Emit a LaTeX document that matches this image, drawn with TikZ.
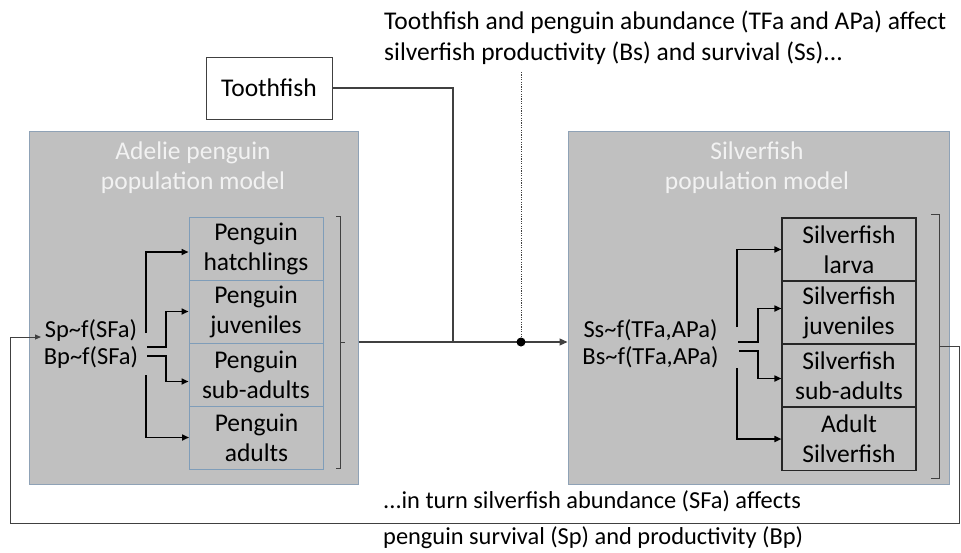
\documentclass[tikz,border=0pt]{standalone}
\usepackage{fontspec}
\setmainfont{Carlito}
\usetikzlibrary{arrows.meta,calc}
\definecolor{boxgray}{HTML}{C0C0C0}
\definecolor{boxedge}{HTML}{8FA2B6}
\definecolor{pedge}{HTML}{7F9DB9}
\definecolor{sedge}{HTML}{262626}
\definecolor{titlecol}{HTML}{F2F2F2}
\definecolor{thinline}{HTML}{404040}
\tikzset{
  txt/.style={font=\fontsize{25.5}{30}\selectfont, inner sep=0pt},
  lbl/.style={font=\fontsize{24.5}{29}\selectfont, inner sep=0pt},
  model/.style={draw=boxedge, fill=boxgray, line width=1pt, inner sep=0pt},
  pbox/.style={txt, draw=pedge, fill=boxgray, line width=1pt, minimum width=134pt, minimum height=63pt, align=center},
  sbox/.style={txt, draw=sedge, fill=boxgray, line width=1.1pt, minimum width=134pt, minimum height=63pt, align=center},
  arr/.style={line width=1.6pt, -{Triangle[length=7pt,width=6pt]}},
  brk/.style={draw=thinline, line width=1pt},
  conn/.style={draw=thinline, line width=1.1pt},
}
\begin{document}
\begin{tikzpicture}[x=1pt,y=-1pt]
\useasboundingbox (0,0) rectangle (961,552);
% model boxes
\node[model, minimum width=329pt, minimum height=353pt] (leftbox) at (193.5,307.5) {};
\node[model, minimum width=381pt, minimum height=353pt] (rightbox) at (758.5,307.5) {};
\node[txt, text=titlecol, align=center] (ltitle) at (193,167.5) {Adelie penguin\\population model};
\node[txt, text=titlecol, align=center] (rtitle) at (757,167.5) {Silverfish\\population model};
% penguin stages
\node[pbox] (ph) at (256,249) {Penguin\\hatchlings};
\node[pbox] (pj) at (256,311.5) {Penguin\\juveniles};
\node[pbox] (ps) at (256,374.5) {Penguin\\sub-adults};
\node[pbox] (pa) at (256.5,437.5) {Penguin\\adults};
% silverfish stages
\node[sbox] (sl) at (849,249.5) {Silverfish\\larva};
\node[sbox] (sj) at (849,312.5) {Silverfish\\juveniles};
\node[sbox] (ss) at (849,375.5) {Silverfish\\sub-adults};
\node[sbox] (sa) at (849,439) {Adult\\Silverfish};
% rate labels
\node[lbl] (spT) at (91,331) {Sp\textasciitilde f(SFa)};
\node[lbl] (bpT) at (91,358) {Bp\textasciitilde f(SFa)};
\node[lbl] (ssT) at (650.5,330) {Ss\textasciitilde f(TFa,APa)};
\node[lbl] (bsT) at (650.5,357) {Bs\textasciitilde f(TFa,APa)};
% penguin arrows
\coordinate (la1) at (146,333);
\coordinate (la2) at (147,347);
\coordinate (la2b) at (166,347);
\coordinate (la3) at (147,356);
\coordinate (la3b) at (166,356);
\coordinate (la4) at (146,375);
\draw[arr] (la1) |- ([yshift=-3pt]ph.west);
\draw[arr] (la2) -- (la2b) |- (pj.west);
\draw[arr] (la3) -- (la3b) |- ([yshift=-7pt]ps.west);
\draw[arr] (la4) |- (pa.west);
% silverfish arrows
\coordinate (ra1) at (737,327);
\coordinate (ra2) at (738,342);
\coordinate (ra2b) at (758,342);
\coordinate (ra3) at (739,351);
\coordinate (ra3b) at (758,351);
\coordinate (ra4) at (737,368);
\draw[arr] (ra1) |- (sl.west);
\draw[arr] (ra2) -- (ra2b) |- ([yshift=4pt]sj.west);
\draw[arr] (ra3) -- (ra3b) |- ([yshift=-3pt]ss.west);
\draw[arr] (ra4) |- (sa.west);
% brackets
\coordinate (lbt) at (340,216);
\coordinate (lbb) at (340,468);
\coordinate (lbm) at (340,342);
\draw[brk] ($(lbt)+(-4,0)$) -- (lbt) -- (lbb) -- ($(lbb)+(-4,0)$);
\draw[brk] (lbm) -- ($(lbm)+(5,0)$);
\coordinate (rbt) at (939,214);
\coordinate (rbb) at (939,478);
\coordinate (rbm) at (939,346);
\draw[brk] ($(rbt)+(-8,0)$) -- (rbt) -- (rbb) -- ($(rbb)+(-8,0)$);
% toothfish
\node[txt, draw=thinline, fill=white, line width=1pt, minimum width=126pt, minimum height=62pt] (tooth) at (269,88) {Toothfish};
\coordinate (J) at (453,342);
\coordinate (D) at (521,342);
\draw[conn] (tooth.east) -| (J);
\draw[conn] (leftbox.east |- J) -- (J);
\draw[conn, -{Triangle[length=8pt,width=7pt]}] (J) -- (rightbox.west |- J);
% top text and dotted link
\node[txt, anchor=west, align=left] (topT) at (384,37.5) {Toothfish and penguin abundance (TFa and APa) affect\\[1pt]silverfish productivity (Bs) and survival (Ss)...};
\coordinate (dtop) at (521,72);
\draw[thinline, line width=1pt, dash pattern=on 1.2pt off 1.2pt] (dtop) -- (D);
\fill (D) circle (4.5pt);
% feedback loop
\coordinate (fr) at (959.5,346);
\coordinate (fbr) at (959.5,523);
\coordinate (fbl) at (10,523);
\coordinate (ftl) at (10,337);
\coordinate (fend) at (41,337);
\draw[conn, line width=1pt, -{Triangle[length=6pt,width=5pt]}] (rbm) -- (fr) -- (fbr) -- (fbl) -- (ftl) -- (fend);
% bottom text
\node[anchor=west, align=left, inner sep=0pt, font=\fontsize{24.4}{30}\selectfont] (botT) at (383,520) {...in turn silverfish abundance (SFa) affects\\[6pt]penguin survival (Sp) and productivity (Bp)};
\end{tikzpicture}
\end{document}
